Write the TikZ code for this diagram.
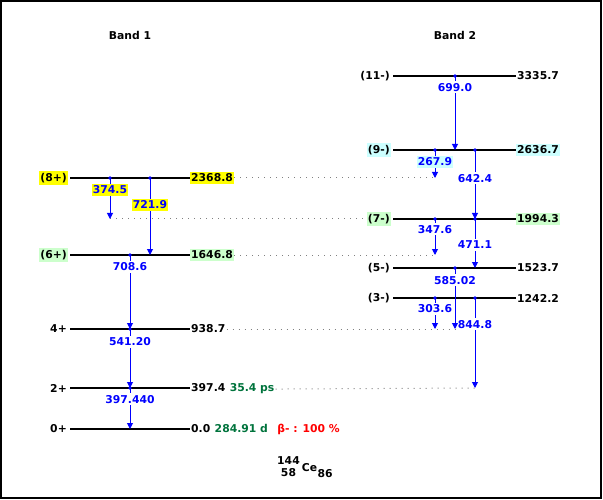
\documentclass[tikz,border=0pt]{standalone}
\usepackage{fontspec}
\setmainfont{DejaVu Sans}
\usetikzlibrary{arrows.meta}
\usetikzlibrary{positioning}
\definecolor{hlyellow}{RGB}{255,255,0}
\definecolor{hlgreen}{RGB}{204,255,204}
\definecolor{hlcyan}{RGB}{204,255,255}
\definecolor{tgreen}{RGB}{0,115,60}
\tikzset{
    txt/.style={font=\fontsize{10.8}{13}\selectfont\bfseries, inner xsep=1pt, inner ysep=2pt},
    level/.style={line width=2pt},
    spinlbl/.style={txt, anchor=east, xshift=-2pt},
    enlbl/.style={txt, anchor=west},
    gam/.style={blue, line width=1pt, -{Triangle[length=6pt,width=6pt]}},
    gamlbl/.style={txt, blue, fill=white},
    link/.style={gray, line width=1pt, dash pattern=on 1pt off 5pt},
    hly/.style={fill=hlyellow}, hlg/.style={fill=hlgreen}, hlc/.style={fill=hlcyan}, hln/.style={},
}

\begin{document}
\begin{tikzpicture}[x=1pt,y=-1pt]
\useasboundingbox (0,0) rectangle (603,500);
\draw[line width=2pt] (1,1) rectangle (601,498);
\node[txt] (t1) at (130,35) {Band 1};
\node[txt] (t2) at (455,35) {Band 2};
% levels
\foreach \y/\jp/\en/\lv/\hl in {178/(8+)/2368.8/b8/hly, 255/(6+)/1646.8/b6/hlg, 329/4+/938.7/b4/hln, 388/2+/397.4/b2/hln, 429/0+/0.0/b0/hln}{
    \draw[level] (70,\y) coordinate (\lv L) -- (190,\y) coordinate (\lv R);
    \node[spinlbl,\hl] (\lv S) at (\lv L) {\jp};
    \node[enlbl,\hl] (\lv E) at (\lv R) {\en};
}
\foreach \y/\jp/\en/\lv/\hl in {76/(11-)/3335.7/a11/hln, 150/(9-)/2636.7/a9/hlc, 219/(7-)/1994.3/a7/hlg, 268/(5-)/1523.7/a5/hln, 298/(3-)/1242.2/a3/hln}{
    \draw[level] (393,\y) coordinate (\lv L) -- (516,\y) coordinate (\lv R);
    \node[spinlbl,\hl] (\lv S) at (\lv L) {\jp};
    \node[enlbl,\hl] (\lv E) at (\lv R) {\en};
}
\node[txt,tgreen,base right=2pt of b2E] (b2T) {35.4 ps};
\node[txt,tgreen,base right=2pt of b0E] (b0T) {284.91 d};
\node[txt,red,base right=7pt of b0T] (b0B) {β- : 100 \%};
% columns of the gammas
\coordinate (c1) at (110,0);
\coordinate (c2) at (150,0);
\coordinate (c3) at (130,0);
\coordinate (c4) at (435,0);
\coordinate (c5) at (455,0);
\coordinate (c6) at (475,0);
% links between the bands
\draw[link] (b8E.east) -- (b8L -| c4);
\draw[link] (a7L -| c1) -- (a7S.west);
\draw[link] (b6E.east) -- (b6L -| c4);
\draw[link] (b4E.east) -- (b4L -| c5);
\draw[link] (b2T.east) -- (b2L -| c6);
% gammas
\foreach \c/\from/\to/\p/\eg/\hl in {c1/b8/a7/0.29/374.5/hly, c2/b8/b6/0.35/721.9/hly,
    c3/b6/b4/0.16/708.6/hln, c3/b4/b2/0.22/541.20/hln, c3/b2/b0/0.27/397.440/hln,
    c5/a11/a9/0.15/699.0/hln, c4/a9/b8/0.43/267.9/hlc, c6/a9/a7/0.41/642.4/hln,
    c4/a7/b6/0.28/347.6/hln, c6/a7/a5/0.53/471.1/hln, c4/a3/b4/0.35/303.6/hln,
    c6/a3/b2/0.29/844.8/hln, c5/a5/b4/0.2/585.02/hln}{
    \fill[blue] (\from L -| \c) circle (1.8);
    \draw[gam] (\from L -| \c) -- node[gamlbl,pos=\p,\hl] {\eg} (\to L -| \c);
}
% nuclide
\node[txt,inner sep=0pt] (ce) at (309.5,468) {Ce};
\node[txt,inner sep=0pt,anchor=south] (nucA) at ([xshift=-21pt,yshift=3pt]ce.center) {144};
\node[txt,inner sep=0pt,anchor=north] (nucZ) at ([xshift=-21pt]ce.center) {58};
\node[txt,inner sep=0pt,anchor=north west] (nucN) at ([yshift=-1pt]ce.east) {86};
\end{tikzpicture}
\end{document}
